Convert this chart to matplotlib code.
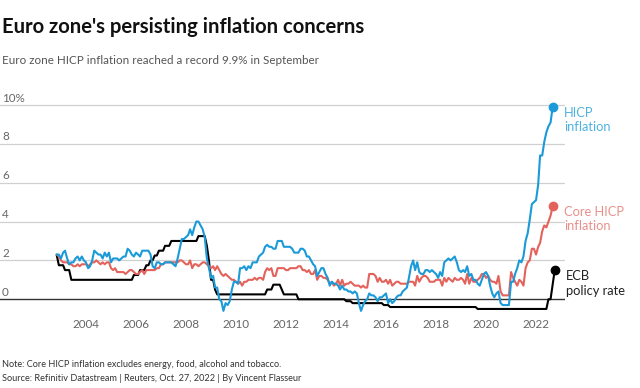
import matplotlib
matplotlib.use("Agg")
import matplotlib.pyplot as plt
import pandas as pd

# -------------------------
# Data (monthly)
# -------------------------
hicp = [
    2.3, 2.3,
    2.1, 2.4, 2.5, 2.1, 1.8, 1.9, 1.9, 2.1, 2.2, 2.0, 2.2, 2.0,
    1.9, 1.6, 1.7, 2.0, 2.5, 2.4, 2.3, 2.3, 2.1, 2.4, 2.2, 2.4,
    1.9, 2.1, 2.1, 2.1, 2.0, 2.1, 2.2, 2.2, 2.6, 2.5, 2.3, 2.2,
    2.4, 2.3, 2.2, 2.5, 2.5, 2.5, 2.5, 2.3, 1.7, 1.6, 1.9, 1.9,
    1.8, 1.8, 1.9, 1.9, 1.9, 1.9, 1.8, 1.7, 2.1, 2.6, 3.1, 3.1,
    3.2, 3.3, 3.6, 3.3, 3.7, 4.0, 4.0, 3.8, 3.6, 3.2, 2.1, 1.6,
    1.1, 1.2, 0.6, 0.6, 0.0, -0.1, -0.6, -0.2, -0.3, -0.1, 0.5, 0.9,
    0.9, 0.8, 1.6, 1.6, 1.7, 1.5, 1.7, 1.6, 1.9, 1.9, 1.9, 2.2,
    2.3, 2.4, 2.7, 2.8, 2.7, 2.7, 2.6, 2.6, 3.0, 3.0, 3.0, 2.7,
    2.7, 2.7, 2.7, 2.6, 2.4, 2.4, 2.4, 2.6, 2.6, 2.5, 2.2, 2.2,
    2.0, 1.8, 1.7, 1.2, 1.4, 1.6, 1.6, 1.3, 1.1, 0.7, 0.9, 0.8,
    0.8, 0.7, 0.5, 0.7, 0.5, 0.5, 0.4, 0.4, 0.3, 0.4, 0.3, -0.2,
    -0.6, -0.3, -0.1, 0.0, 0.3, 0.2, 0.2, 0.1, -0.1, 0.1, 0.1, 0.2,
    0.3, -0.2, 0.0, -0.2, -0.1, 0.1, 0.2, 0.2, 0.4, 0.5, 0.6, 1.1,
    1.7, 2.0, 1.5, 1.9, 1.4, 1.3, 1.3, 1.5, 1.5, 1.4, 1.5, 1.4,
    1.3, 1.1, 1.4, 1.2, 1.9, 2.0, 2.1, 2.0, 2.1, 2.2, 1.9, 1.5,
    1.4, 1.5, 1.4, 1.7, 1.2, 1.3, 1.0, 1.0, 0.8, 0.7, 1.0, 1.3,
    1.4, 1.2, 0.7, 0.3, 0.1, 0.3, 0.4, -0.2, -0.3, -0.3, -0.3, -0.3,
    0.9, 0.9, 1.3, 1.6, 2.0, 1.9, 2.2, 3.0, 3.4, 4.1, 4.9, 5.0,
    5.1, 5.9, 7.4, 7.4, 8.1, 8.6, 8.9, 9.1, 9.9,
]

core = [
    2.3, 2.2,
    2.0, 1.9, 1.9, 1.9, 1.8, 1.8, 1.7, 1.7, 1.8, 1.7, 1.8, 1.8,
    1.8, 1.7, 1.8, 1.9, 1.9, 2.0, 1.9, 1.8, 1.9, 1.8, 1.9, 1.9,
    1.6, 1.5, 1.6, 1.4, 1.4, 1.4, 1.4, 1.3, 1.4, 1.5, 1.5, 1.4,
    1.3, 1.3, 1.4, 1.5, 1.3, 1.5, 1.5, 1.5, 1.5, 1.5, 1.6, 1.6,
    1.8, 1.8, 1.9, 1.9, 1.9, 1.9, 1.9, 1.9, 1.9, 2.0, 2.0, 1.9,
    1.8, 1.8, 2.0, 1.6, 1.8, 1.8, 1.7, 1.8, 1.9, 1.9, 1.8, 1.7,
    1.6, 1.7, 1.5, 1.7, 1.5, 1.3, 1.2, 1.3, 1.2, 1.1, 1.0, 1.0,
    0.9, 0.8, 0.9, 0.7, 0.9, 0.9, 1.0, 1.0, 1.0, 1.1, 1.0, 1.1,
    1.1, 1.0, 1.4, 1.6, 1.5, 1.6, 1.2, 1.2, 1.6, 1.6, 1.6, 1.6,
    1.5, 1.5, 1.6, 1.6, 1.6, 1.6, 1.7, 1.7, 1.5, 1.5, 1.4, 1.5,
    1.3, 1.3, 1.5, 1.0, 1.2, 1.2, 1.1, 1.1, 1.0, 0.8, 0.9, 0.7,
    0.8, 1.0, 0.7, 1.0, 0.7, 0.8, 0.8, 0.9, 0.8, 0.7, 0.7, 0.7,
    0.6, 0.7, 0.6, 0.6, 1.3, 1.3, 1.3, 1.2, 0.9, 1.1, 0.9, 0.9,
    1.0, 0.8, 1.0, 0.7, 0.8, 0.9, 0.9, 0.8, 0.8, 0.8, 0.8, 0.9,
    0.9, 0.9, 0.7, 1.2, 0.9, 1.1, 1.2, 1.2, 1.1, 0.9, 0.9, 0.9,
    1.0, 1.0, 1.0, 0.7, 1.1, 0.9, 1.1, 1.0, 0.9, 1.1, 1.0, 1.0,
    1.1, 1.0, 0.8, 1.3, 0.8, 1.1, 0.9, 0.9, 1.0, 1.1, 1.3, 1.3,
    1.1, 1.2, 1.0, 0.9, 0.9, 0.8, 1.2, 0.4, 0.2, 0.2, 0.2, 0.2,
    1.4, 1.1, 0.9, 0.7, 1.0, 0.9, 0.7, 1.6, 1.9, 2.0, 2.6, 2.6,
    2.3, 2.7, 2.9, 3.5, 3.8, 3.7, 4.0, 4.3, 4.8,
]

ecb_rate = (
    [2.25, 1.75]
    + [1.75, 1.75, 1.50, 1.50, 1.50] + [1.00] * 7
    + [1.00] * 12
    + [1.00] * 11 + [1.25]
    + [1.25, 1.25, 1.50, 1.50, 1.50, 1.75, 1.75, 2.00, 2.00, 2.25, 2.25, 2.50]
    + [2.50, 2.50, 2.75, 2.75, 2.75] + [3.00] * 7
    + [3.00] * 6 + [3.25] * 4 + [2.75, 2.00]
    + [1.00, 1.00, 0.50] + [0.25] * 9
    + [0.25] * 12
    + [0.25, 0.25, 0.25, 0.50, 0.50, 0.50, 0.75, 0.75, 0.75, 0.75, 0.50, 0.25]
    + [0.25] * 6 + [0.00] * 6
    + [0.00] * 12
    + [0.00] * 5 + [-0.10] * 3 + [-0.20] * 4
    + [-0.20] * 11 + [-0.30]
    + [-0.30, -0.30] + [-0.40] * 10
    + [-0.40] * 12
    + [-0.40] * 12
    + [-0.40] * 8 + [-0.50] * 4
    + [-0.50] * 12
    + [-0.50] * 12
    + [-0.50] * 6 + [0.00, 0.00, 0.75, 1.50]
)

hicp_dates = pd.date_range("2002-11-01", periods=len(hicp), freq="MS")
core_dates = pd.date_range("2002-11-01", periods=len(core), freq="MS")
ecb_dates = pd.date_range("2002-11-01", periods=len(ecb_rate), freq="MS")

year_ticks = [2004, 2006, 2008, 2010, 2012, 2014, 2016, 2018, 2020, 2022]
y_ticks = [0, 2, 4, 6, 8, 10]
y_labels = ["0", "2", "4", "6", "8", "10%"]

plt.rcParams["font.family"] = ["Lato", "DejaVu Sans"]

BLUE = "#1a9ad8"
RED = "#e3625c"
BLACK = "#000000"

# -------------------------
# Figure
# -------------------------
fig = plt.figure(figsize=(6.4, 3.88), dpi=100)
ax = fig.add_axes([0.0, 0.1887, 565 / 640, 0.5557])

ax.set_ylim(-0.8, 10.3)
ax.set_xlim(pd.Timestamp("2000-07-24"), pd.Timestamp("2023-02-28"))

for v in y_ticks:
    if v == 0:
        ax.axhline(v, color="#333333", lw=1.0, zorder=1)
    else:
        ax.axhline(v, color="#d0d0d0", lw=0.9, zorder=0)

for v, lab in zip(y_ticks, y_labels):
    ax.annotate(lab, xy=(0, v), xycoords=("axes fraction", "data"),
                xytext=(1.5, 2.5), textcoords="offset points",
                ha="left", va="baseline", fontsize=8.4, color="#666666")

ax.plot(ecb_dates, ecb_rate, color=BLACK, lw=1.5, zorder=3)
ax.plot(core_dates, core, color=RED, lw=1.5, zorder=4)
ax.plot(hicp_dates, hicp, color=BLUE, lw=1.5, zorder=5)

ends = [
    (hicp_dates[-1], hicp[-1], BLUE, "#4fb2e0", "HICP\ninflation"),
    (core_dates[-1], core[-1], RED, "#e8908b", "Core HICP\ninflation"),
    (ecb_dates[-1], ecb_rate[-1], BLACK, "#222222", "ECB\npolicy rate"),
]
for d, v, c, tc, lab in ends:
    ax.plot([d], [v], "o", color=c, ms=6, zorder=6, clip_on=False)
    ax.annotate(lab, xy=(d, v), xytext=(8, -9.5), textcoords="offset points",
                ha="left", va="center", fontsize=9.3, color=tc,
                linespacing=1.25, annotation_clip=False)

ax.set_xticks([pd.Timestamp(f"{y}-01-01") for y in year_ticks])
ax.set_xticklabels([str(y) for y in year_ticks], fontsize=8.4, color="#666666")
ax.tick_params(axis="x", length=0, pad=3)
ax.set_yticks([])
for s in ax.spines.values():
    s.set_visible(False)

fig.text(0.003, 0.9157, "Euro zone's persisting inflation concerns",
         fontsize=14.6, fontweight="bold", color="#111111", va="baseline")
fig.text(0.003, 0.835, "Euro zone HICP inflation reached a record 9.9% in September",
         fontsize=8.4, color="#555555", va="baseline")
fig.text(0.003, 0.0549, "Note: Core HICP inflation excludes energy, food, alcohol and tobacco.",
         fontsize=6.6, color="#333333", va="baseline")
fig.text(0.003, 0.0193, "Source: Refinitiv Datastream | Reuters, Oct. 27, 2022 | By Vincent Flasseur",
         fontsize=6.6, color="#333333", va="baseline")

fig.savefig("out.png", dpi=100)
